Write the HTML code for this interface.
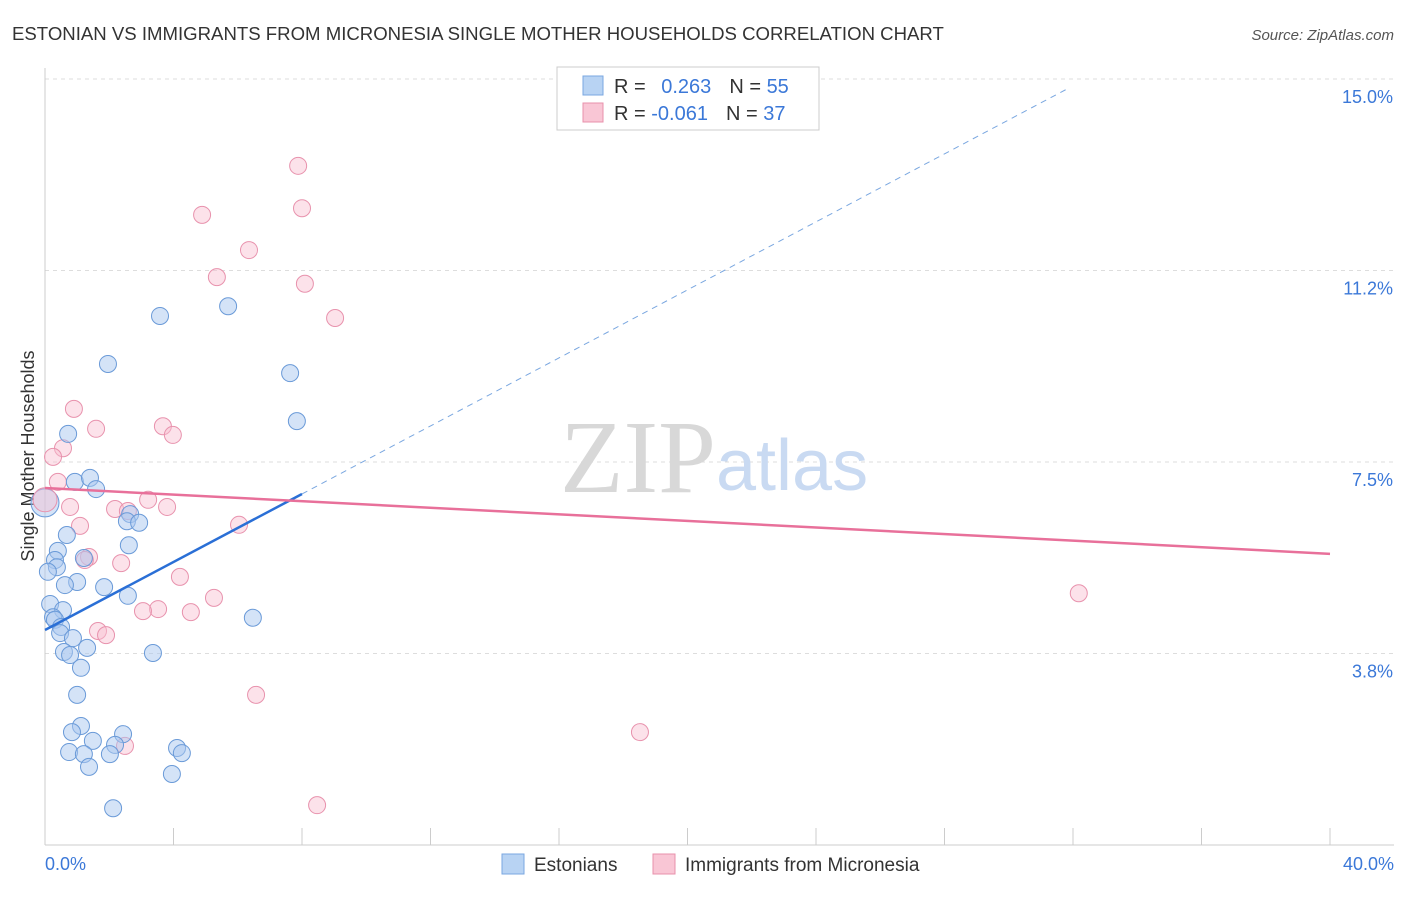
<!DOCTYPE html>
<html><head><meta charset="utf-8"><style>
body{margin:0;background:#fff;font-family:"Liberation Sans",sans-serif;}
</style></head><body>
<svg width="1406" height="892" xmlns="http://www.w3.org/2000/svg">
<text x="12" y="40" font-size="18.6" fill="#333">ESTONIAN VS IMMIGRANTS FROM MICRONESIA SINGLE MOTHER HOUSEHOLDS CORRELATION CHART</text>
<text x="1394" y="40" font-size="15" fill="#555" font-style="italic" text-anchor="end">Source: ZipAtlas.com</text>
<g id="grid"></g>
<g id="axes"></g>
<text x="716" y="492" font-size="104" fill="#d8d8d8" font-family="Liberation Serif,serif" text-anchor="end">ZIP</text>
<text x="716" y="490" font-size="72" fill="#c9daf2">atlas</text>
<text x="34" y="456" font-size="18" fill="#333" text-anchor="middle" transform="rotate(-90 34 456)">Single Mother Households</text>
<g id="pts"></g>
<g id="trends"></g>
<g>
<rect x="557" y="67" width="262" height="63" fill="#fff" stroke="#ccc"/>
<rect x="583" y="76" width="20" height="19" fill="#b8d3f3" stroke="#7aa7e0"/>
<rect x="583" y="103" width="20" height="19" fill="#f9c6d5" stroke="#e890ab"/>
<text x="614" y="93" font-size="20" fill="#333">R = <tspan fill="#3b78d8" dx="10">0.263</tspan><tspan dx="18">N = </tspan><tspan fill="#3b78d8">55</tspan></text>
<text x="614" y="120" font-size="20" fill="#333">R = <tspan fill="#3b78d8">-0.061</tspan><tspan dx="18">N = </tspan><tspan fill="#3b78d8">37</tspan></text>
</g>
<g>
<rect x="502" y="854" width="22" height="20" fill="#b8d3f3" stroke="#7aa7e0"/>
<text x="534" y="871" font-size="19" fill="#333">Estonians</text>
<rect x="653" y="854" width="22" height="20" fill="#f9c6d5" stroke="#e890ab"/>
<text x="685" y="871" font-size="19" fill="#333">Immigrants from Micronesia</text>
</g>
</svg>
<script>
const xTicksPct=[0,4,8,12,16,20,24,28,32,36,40];
const yTickVals=[3.75,7.5,11.25,15];
const yTickLabels=["3.8%","7.5%","11.2%","15.0%"];
const estX=[3.58,5.70,1.96,7.63,7.84,0.72,0.93,1.40,1.59,2.65,2.55,2.93,0.68,2.61,0.40,0.31,1.21,0.37,0.09,1.00,0.62,1.84,2.58,0.16,0.56,0.25,0.31,0.50,0.47,0.87,1.31,0.59,0.78,3.36,1.12,6.47,1.00,1.12,0.84,2.43,1.49,2.18,0.75,1.21,2.02,4.11,4.26,1.37,3.95,2.12];
const estY=[10.36,10.55,9.42,9.24,8.30,8.05,7.11,7.19,6.97,6.48,6.34,6.31,6.07,5.87,5.76,5.58,5.62,5.44,5.35,5.15,5.09,5.05,4.88,4.72,4.60,4.46,4.41,4.27,4.15,4.05,3.86,3.78,3.72,3.76,3.47,4.45,2.94,2.33,2.21,2.17,2.04,1.96,1.82,1.78,1.78,1.90,1.80,1.53,1.39,0.72];
const micX=[7.88,8.00,4.89,6.35,5.35,8.09,9.03,0.90,1.59,3.67,3.98,0.56,0.25,0.40,3.21,3.80,0.78,2.18,2.58,1.09,6.04,1.37,1.24,2.37,4.20,5.26,3.52,3.05,4.54,1.65,1.90,32.18,6.57,18.52,2.49,8.47];
const micY=[13.30,12.47,12.34,11.65,11.12,10.99,10.32,8.54,8.15,8.20,8.03,7.77,7.60,7.11,6.76,6.62,6.62,6.58,6.54,6.25,6.27,5.64,5.58,5.52,5.25,4.84,4.62,4.58,4.56,4.19,4.11,4.93,2.94,2.21,1.94,0.78];
const bigEst=[0,6.70], bigMic=[0,6.76];
const estTrend=[4.21,0.333], micTrend=[6.99,-0.0322];
const NS="http://www.w3.org/2000/svg";
const X=v=>45+v/40*1285, Y=v=>845-v/15*766;
function mk(t,a,p){const e=document.createElementNS(NS,t);for(const k in a)e.setAttribute(k,a[k]);document.getElementById(p).appendChild(e);return e;}
yTickVals.forEach((v,i)=>{
 const l=mk('line',{x1:45,x2:1394,y1:Y(v),y2:Y(v),stroke:'#ddd','stroke-dasharray':'4,4'},'grid');
 
 
 const t=mk('text',{x:1393,y:Y(v)+24,'font-size':18,fill:'#3b78d8','text-anchor':'end'},'grid');t.textContent=yTickLabels[i];
 
 
});
const ax=mk('line',{x1:45,x2:45,y1:68,y2:845,stroke:'#ccc'},'axes');


const bx=mk('line',{x1:45,x2:1394,y1:845,y2:845,stroke:'#ccc'},'axes');


xTicksPct.forEach(v=>{const l=mk('line',{x1:X(v),x2:X(v),y1:828,y2:845,stroke:'#ccc'},'axes');
 
 });
const t0=mk('text',{x:45,y:870,'font-size':18,fill:'#3b78d8'},'axes');t0.textContent='0.0%';


const t1=mk('text',{x:1394,y:870,'font-size':18,fill:'#3b78d8','text-anchor':'end'},'axes');t1.textContent='40.0%';


micX.forEach((x,i)=>{const c=mk('circle',{cx:X(x),cy:Y(micY[i]),r:8.5,fill:'rgba(249,190,208,0.45)',stroke:'#e892ad','stroke-width':1},'pts');
 
 });
estX.forEach((x,i)=>{const c=mk('circle',{cx:X(x),cy:Y(estY[i]),r:8.5,fill:'rgba(170,200,240,0.5)',stroke:'#6a9ad8','stroke-width':1},'pts');
 
 });
const b1=mk('circle',{cx:X(bigEst[0]),cy:Y(bigEst[1]),r:14,fill:'rgba(170,200,240,0.5)',stroke:'#6a9ad8'},'pts');


const b2=mk('circle',{cx:X(bigMic[0]),cy:Y(bigMic[1]),r:12,fill:'rgba(249,190,208,0.45)',stroke:'#e892ad'},'pts');


const e1=mk('line',{x1:X(0),y1:Y(estTrend[0]),x2:X(8),y2:Y(estTrend[0]+estTrend[1]*8),stroke:'#2a6fd6','stroke-width':2.5},'trends');


const e2=mk('line',{x1:X(8),y1:Y(estTrend[0]+estTrend[1]*8),x2:X(31.85),y2:Y(estTrend[0]+estTrend[1]*31.85),stroke:'#7aa7e0','stroke-width':1,'stroke-dasharray':'6,5'},'trends');


const m1=mk('line',{x1:X(0),y1:Y(micTrend[0]),x2:X(40),y2:Y(micTrend[0]+micTrend[1]*40),stroke:'#e8709a','stroke-width':2.5},'trends');


</script>
</body></html>
